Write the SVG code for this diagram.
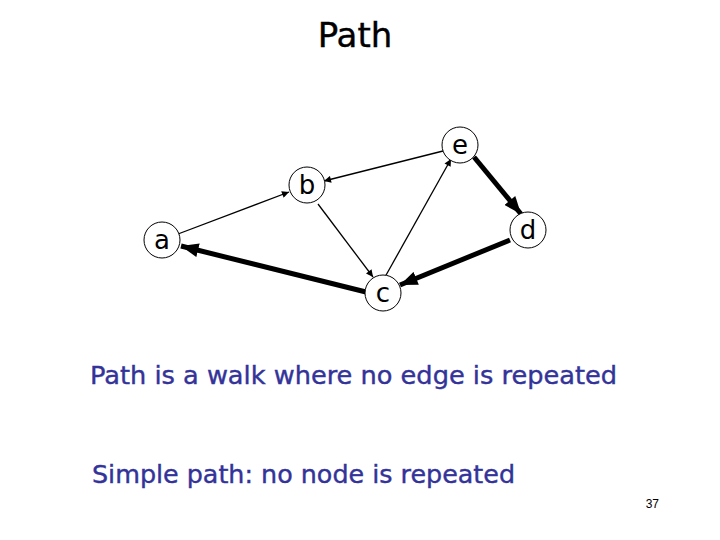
<svg xmlns="http://www.w3.org/2000/svg" width="720" height="540" viewBox="0 0 720 540">
<style>
.node circle{fill:#fff;stroke:#000;stroke-width:1}
.node text{font-family:"DejaVu Sans",sans-serif;font-size:26px;text-anchor:middle;fill:#000}
.thin{stroke:#000;stroke-width:1.3;fill:none;marker-end:url(#ah)}
.thick{stroke:#000;stroke-width:5;fill:none;marker-end:url(#ahb)}
.body{font-family:"DejaVu Sans",sans-serif;font-size:25px;fill:#333399;stroke:#333399;stroke-width:0.4}
</style>
<defs>
<marker id="ah" viewBox="0 0 10 10" refX="10" refY="5" markerWidth="8" markerHeight="7" markerUnits="userSpaceOnUse" orient="auto"><path d="M0,0 L10,5 L0,10 z" fill="#000"/></marker>
<marker id="ahb" viewBox="0 0 10 8" refX="10" refY="4" markerWidth="18" markerHeight="14" markerUnits="userSpaceOnUse" orient="auto"><path d="M0,0 L10,4 L0,8 z" fill="#000"/></marker>
</defs>
<rect width="720" height="540" fill="#fff"/>
<text x="355" y="47" font-family="DejaVu Sans, sans-serif" font-size="34" text-anchor="middle" stroke="#000" stroke-width="0.4">Path</text>
<g id="connectors">
<line class="thin" x1="178" y1="234" x2="289" y2="192"/>
<line class="thin" x1="443" y1="151" x2="324" y2="181"/>
<line class="thin" x1="318" y1="204" x2="373" y2="277"/>
<line class="thin" x1="385" y1="277" x2="451" y2="159"/>
<line class="thick" x1="474" y1="157" x2="521" y2="214"/>
<line class="thick" x1="510" y1="240" x2="400" y2="285"/>
<line class="thick" x1="366" y1="292" x2="181" y2="246"/>
</g>
<g id="node-e" class="node"><circle cx="460" cy="145" r="18"/><text x="460" y="154">e</text></g>
<g id="node-b" class="node"><circle cx="307" cy="185" r="18"/><text x="307" y="194">b</text></g>
<g id="node-a" class="node"><circle cx="162" cy="240" r="18"/><text x="162" y="249">a</text></g>
<g id="node-d" class="node"><circle cx="528" cy="230" r="18"/><text x="528" y="239">d</text></g>
<g id="node-c" class="node"><circle cx="383" cy="293" r="18"/><text x="383" y="302">c</text></g>
<text class="body" x="90" y="384" textLength="527" lengthAdjust="spacingAndGlyphs">Path is a walk where no edge is repeated</text>
<text class="body" x="92" y="483" textLength="423" lengthAdjust="spacingAndGlyphs">Simple path: no node is repeated</text>
<text x="659" y="508" font-family="Liberation Sans, sans-serif" font-size="12" text-anchor="end">37</text>
</svg>
